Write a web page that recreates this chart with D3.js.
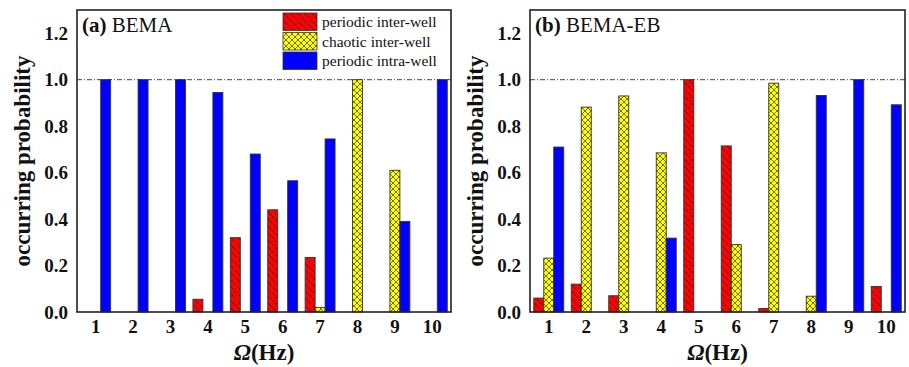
<!DOCTYPE html>
<html>
<head>
<meta charset="utf-8">
<script src="https://cdn.jsdelivr.net/npm/d3@7.9.0/dist/d3.min.js"></script>
<style>
  body { margin: 0; background: #fff; }
  svg { display: block; font-family: 'Liberation Serif', 'Times New Roman', serif; }
</style>
</head>
<body>
<svg id="chart" width="909" height="367"></svg>
<script>
// frequencies (Hz)
const freqs = [1, 2, 3, 4, 5, 6, 7, 8, 9, 10];
const seriesNames = ['periodic inter-well', 'chaotic inter-well', 'periodic intra-well'];
const yTicks = [0, 0.2, 0.4, 0.6, 0.8, 1.0, 1.2];

// (a) BEMA
const bemaPeriodicInter = [0, 0, 0, 0.055, 0.32, 0.44, 0.235, 0, 0, 0];
const bemaChaoticInter = [0, 0, 0, 0, 0, 0, 0.02, 1.0, 0.61, 0];
const bemaPeriodicIntra = [1.0, 1.0, 1.0, 0.945, 0.68, 0.565, 0.745, 0, 0.39, 1.0];

// (b) BEMA-EB
const ebPeriodicInter = [0.06, 0.12, 0.07, 0, 1.0, 0.715, 0.015, 0, 0, 0.11];
const ebChaoticInter = [0.232, 0.882, 0.93, 0.685, 0, 0.29, 0.985, 0.068, 0, 0];
const ebPeriodicIntra = [0.71, 0, 0, 0.318, 0, 0, 0, 0.932, 1.0, 0.892];

const svg = d3.select('#chart');

// hatch patterns
const defs = svg.append('defs');
const pRed = defs.append('pattern').attr('id', 'hatchRed')
  .attr('patternUnits', 'userSpaceOnUse').attr('width', 7).attr('height', 7);
pRed.append('rect').attr('width', 7).attr('height', 7).attr('fill', '#ff0000');
pRed.append('path').attr('d', 'M-1,-1 L8,8 M-4,3 L3,10 M4,-3 L10,3')
  .attr('stroke', '#222').attr('stroke-width', 0.8);

const pYel = defs.append('pattern').attr('id', 'hatchYellow')
  .attr('patternUnits', 'userSpaceOnUse').attr('width', 6).attr('height', 6);
pYel.append('rect').attr('width', 6).attr('height', 6).attr('fill', '#ffff00');
pYel.append('path').attr('d', 'M0,0 L6,6 M6,0 L0,6')
  .attr('stroke', '#333').attr('stroke-width', 0.7);

const fills = ['url(#hatchRed)', 'url(#hatchYellow)', '#0000ff'];

function drawPanel(left, right, tag, title, series, withLegend) {
  const top = 10, bottom = 312;
  const g = svg.append('g');

  const x0 = d3.scaleBand().domain(freqs).range([left, right])
    .paddingInner(0.2).paddingOuter(0.1);
  const x1 = d3.scaleBand().domain([0, 1, 2]).range([0, x0.bandwidth()]);
  const y = d3.scaleLinear().domain([0, 1.3]).range([bottom, top]);

  // reference line at 1.0
  g.append('line')
    .attr('x1', left).attr('x2', right)
    .attr('y1', y(1)).attr('y2', y(1))
    .attr('stroke', '#444').attr('stroke-width', 1)
    .attr('stroke-dasharray', '5,2,1,2');

  // bars
  series.forEach((vals, si) => {
    g.append('g').selectAll('rect')
      .data(freqs.map((f, i) => ({ f, v: vals[i] })).filter(d => d.v > 0))
      .join('rect')
      .attr('x', d => x0(d.f) + x1(si))
      .attr('width', x1.bandwidth())
      .attr('y', d => y(d.v))
      .attr('height', d => y(0) - y(d.v))
      .attr('fill', fills[si])
      .attr('stroke', '#333')
      .attr('stroke-width', 0.9);
  });

  // frame
  g.append('rect')
    .attr('x', left).attr('y', top)
    .attr('width', right - left).attr('height', bottom - top)
    .attr('fill', 'none').attr('stroke', '#222').attr('stroke-width', 1.6);

  // axes
  const ya = g.append('g').attr('transform', `translate(${left},0)`)
    .call(d3.axisLeft(y).tickValues(yTicks).tickFormat(d3.format('.1f')).tickSize(0).tickPadding(9));
  ya.select('.domain').remove();
  ya.selectAll('text').attr('font-size', 19).attr('font-weight', 'bold')
    .attr('font-family', 'Liberation Serif').attr('fill', '#111');

  const xa = g.append('g').attr('transform', `translate(0,${bottom})`)
    .call(d3.axisBottom(x0).tickSize(0).tickPadding(8));
  xa.select('.domain').remove();
  xa.selectAll('text').attr('font-size', 19).attr('font-weight', 'bold')
    .attr('font-family', 'Liberation Serif').attr('fill', '#111');

  // axis titles
  const xt = g.append('text')
    .attr('x', (left + right) / 2).attr('y', 360)
    .attr('text-anchor', 'middle')
    .attr('font-size', 23).attr('font-weight', 'bold').attr('fill', '#111');
  xt.append('tspan').attr('font-style', 'italic').text('Ω');
  xt.append('tspan').text('(Hz)');

  g.append('text')
    .attr('transform', `translate(${left - 47},${(top + bottom) / 2}) rotate(-90)`)
    .attr('text-anchor', 'middle')
    .attr('font-size', 23).attr('font-weight', 'bold').attr('fill', '#111')
    .text('occurring probability');

  // panel tag
  const pt = g.append('text')
    .attr('x', left + 5).attr('y', 32)
    .attr('font-size', 21).attr('fill', '#111');
  pt.append('tspan').attr('font-weight', 'bold').text(tag);
  pt.append('tspan').text(' ' + title);

  if (withLegend) {
    const lg = g.append('g').attr('transform', 'translate(283,13)');
    seriesNames.forEach((name, i) => {
      lg.append('rect')
        .attr('x', 0).attr('y', i * 19.5)
        .attr('width', 34).attr('height', 17.5)
        .attr('fill', fills[i]).attr('stroke', '#333').attr('stroke-width', 0.8);
      lg.append('text')
        .attr('x', 39).attr('y', i * 19.5 + 14)
        .attr('font-size', 15.5).attr('fill', '#111')
        .text(name);
    });
  }
}

drawPanel(77, 451, '(a)', 'BEMA',
  [bemaPeriodicInter, bemaChaoticInter, bemaPeriodicIntra], true);
drawPanel(530, 905, '(b)', 'BEMA-EB',
  [ebPeriodicInter, ebChaoticInter, ebPeriodicIntra], false);
</script>
</body>
</html>
